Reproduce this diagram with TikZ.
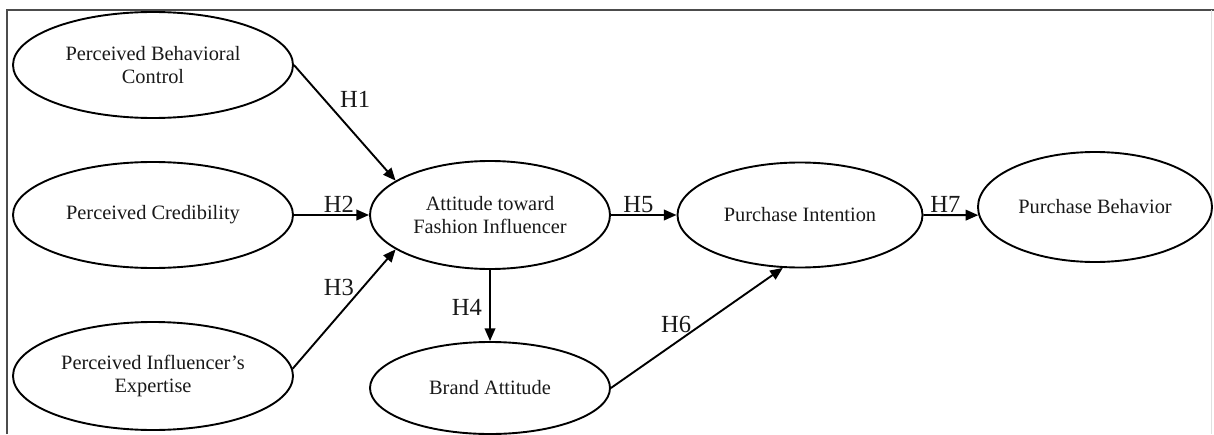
\documentclass[tikz,border=0pt]{standalone}
\usepackage{fontspec}
\setmainfont{Liberation Serif}
\usetikzlibrary{arrows.meta,positioning,shapes.geometric}

\tikzset{
  construct/.style={ellipse, draw, on grid, inner sep=0pt, align=center,
    text=black!90, font=\fontsize{14.5}{17}\selectfont},
  hyp/.style={inner sep=1pt, text=black!90, font=\fontsize{17.5}{20}\selectfont}
}

\begin{document}
\begin{tikzpicture}[>={Triangle[length=9pt,width=7.5pt]}, line width=1.35pt]
   \useasboundingbox (-3.825,5.375) rectangle (26.525,-5.475);
   % frame
   \draw[black!70, line width=0.8pt] (-3.65,-5.475) -- (-3.65,5.125) -- (26.525,5.125);
   \draw[black!12, line width=0.6pt] (26.45,5.125) -- (26.45,-5.475);

   \node [construct, minimum width=7cm, minimum height=2.65cm] (pc) {Perceived Credibility};
   \node [construct, minimum width=7cm, minimum height=2.65cm] (pbc) [above=3.75cm of pc] {Perceived Behavioral\\Control};
   \node [construct, minimum width=7cm, minimum height=2.7cm] (pie) [below=4.025cm of pc] {Perceived Influencer's\\Expertise};
   \node [construct, minimum width=6cm, minimum height=2.7cm] (atfi) [right=8.425cm of pc] {Attitude toward\\Fashion Influencer};
   \node [construct, minimum width=6cm, minimum height=2.3cm] (ba) [below=4.325cm of atfi] {Brand Attitude};
   \node [construct, minimum width=6.125cm, minimum height=2.625cm] (pi) [right=7.75cm of atfi] {Purchase Intention};
   \node [construct, minimum width=5.85cm, minimum height=2.75cm] (pb) [right=7.375cm of pi, yshift=0.2cm] {Purchase Behavior};

   \path[->]
   (pbc.east) edge node [hyp, pos=0.3, right=9.5pt] {H1} (atfi.160)
   (pc) edge node [hyp, pos=0.6, above] {H2} (atfi)
   (pie.3) edge node [hyp, pos=0.68, left=4.5pt] {H3} (atfi.200)
   (atfi) edge node [hyp, pos=0.53, left=4pt] {H4} (ba)
   (atfi) edge node [hyp, pos=0.42, above] {H5} (pi)
   (ba.east) edge node [hyp, pos=0.38, above=5pt] {H6} (pi.252)
   (pi.east) edge node [hyp, pos=0.4, above] {H7} (pb.184);
\end{tikzpicture}
\end{document}
